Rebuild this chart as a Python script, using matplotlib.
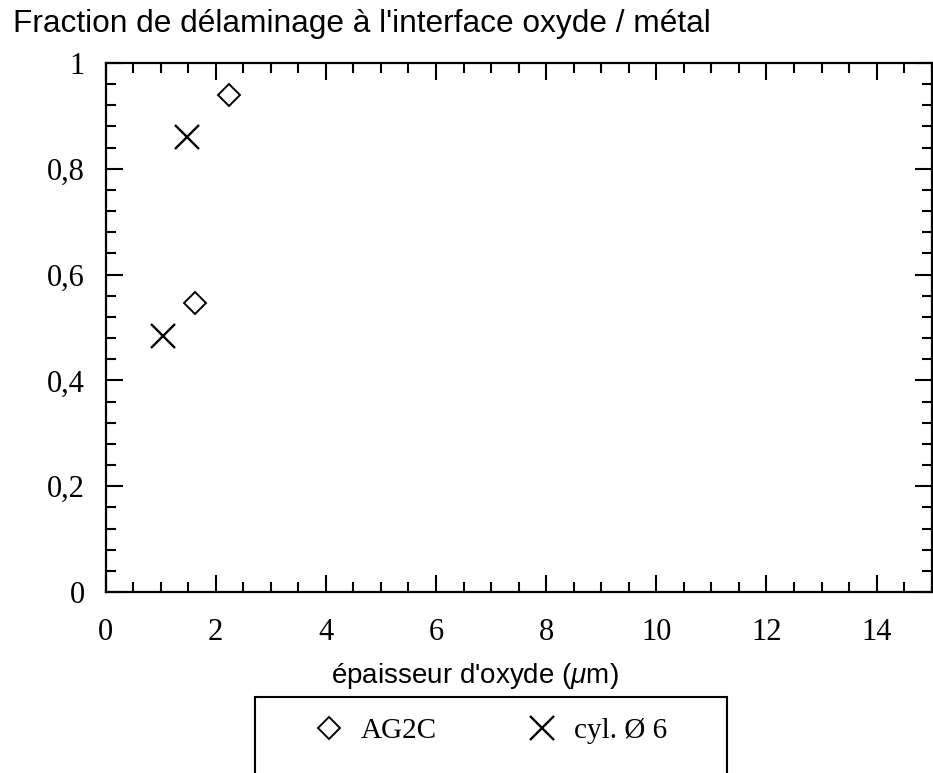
import matplotlib
matplotlib.use("Agg")
import matplotlib.pyplot as plt
from matplotlib.patches import Rectangle
from matplotlib.ticker import FixedLocator, FixedFormatter, MultipleLocator

plt.rcParams['mathtext.fontset'] = 'custom'
plt.rcParams['mathtext.it'] = 'Liberation Sans:italic'
plt.rcParams['mathtext.rm'] = 'Liberation Sans'

# Data
ag2c_x = [2.25, 1.62]
ag2c_y = [0.94, 0.546]
cyl_x = [1.48, 1.04]
cyl_y = [0.86, 0.483]

series_labels = ["AG2C", "cyl. Ø 6"]
x_ticks = [0, 2, 4, 6, 8, 10, 12, 14]
x_ticklabels = ["0", "2", "4", "6", "8", "10", "12", "14"]
y_ticks = [0, 0.2, 0.4, 0.6, 0.8, 1.0]
y_ticklabels = ["0", "0,2", "0,4", "0,6", "0,8", "1"]

title_text = "Fraction de délaminage à l'interface oxyde / métal"
xlabel_text = "épaisseur d'oxyde ($\\mu$m)"

W, H = 933, 773
fig = plt.figure(figsize=(W / 100, H / 100), dpi=100)
ax = fig.add_axes([105.5 / W, 1 - 592 / H, (931.7 - 105.5) / W, (592 - 63) / H])

serif = 'Liberation Serif'
sans = 'Liberation Sans'

h1, = ax.plot(ag2c_x, ag2c_y, linestyle='none', marker='D', markersize=11.5,
              markerfacecolor='white', markeredgecolor='black', markeredgewidth=1.4,
              label=series_labels[0])
h2, = ax.plot(cyl_x, cyl_y, linestyle='none', marker='x', markersize=17,
              color='black', markeredgewidth=1.7, label=series_labels[1])

ax.set_xlim(0, 15)
ax.set_ylim(0, 1)
ax.xaxis.set_major_locator(FixedLocator(x_ticks))
ax.xaxis.set_major_formatter(FixedFormatter(x_ticklabels))
ax.yaxis.set_major_locator(FixedLocator(y_ticks))
ax.yaxis.set_major_formatter(FixedFormatter(y_ticklabels))
ax.xaxis.set_minor_locator(MultipleLocator(0.5))
ax.yaxis.set_minor_locator(MultipleLocator(0.04))

for s in ax.spines.values():
    s.set_linewidth(1.6)

ax.tick_params(which='both', direction='in', top=True, right=True, width=1.5)
ax.tick_params(which='major', length=12.5)
ax.tick_params(which='minor', length=7.5)
ax.tick_params(axis='x', which='major', pad=19)
ax.tick_params(axis='y', which='major', pad=15)
for lab in ax.get_xticklabels() + ax.get_yticklabels():
    lab.set_fontfamily(serif)
    lab.set_fontsize(22)

fig.text(13 / W, 1 - 32 / H, title_text, family=sans, fontsize=22.8,
         ha='left', va='baseline')
fig.text(475 / W, 1 - 683 / H, xlabel_text, family=sans, fontsize=20,
         ha='center', va='baseline')

# Legend frame (extends below figure edge as in reference)
fig.patches.append(Rectangle((255 / W, -0.05), (727 - 255) / W, (773 - 697) / H + 0.05,
                             transform=fig.transFigure, fill=False,
                             edgecolor='black', linewidth=1.5))
leg = fig.legend(handles=[h1, h2], loc='center', bbox_to_anchor=(490.5 / W, 1 - 731 / H),
                 ncol=2, frameon=False, handlelength=1.0, handletextpad=0.6,
                 columnspacing=3.1, borderpad=0, prop={'family': serif, 'size': 21})

fig.savefig("out.png", dpi=100)
